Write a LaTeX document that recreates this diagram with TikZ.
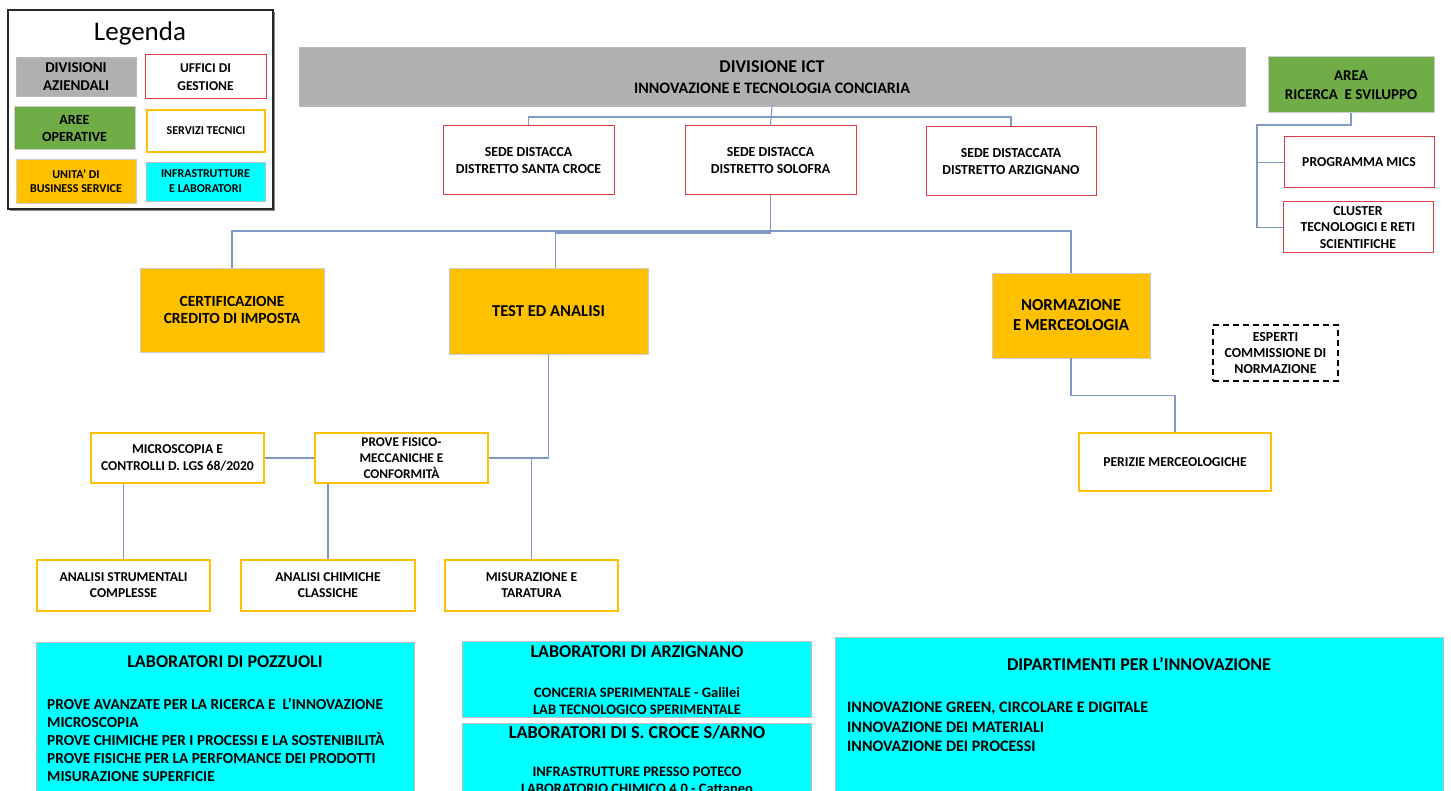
\documentclass[tikz,border=0pt]{standalone}
\usepackage{fontspec}
\setmainfont{Carlito}
\usetikzlibrary{calc}
\definecolor{divgray}{RGB}{176,176,176}
\definecolor{greenf}{RGB}{112,173,71}
\definecolor{orangef}{RGB}{255,192,0}
\definecolor{cyanf}{RGB}{0,255,255}
\definecolor{redb}{RGB}{214,60,66}
\definecolor{connc}{RGB}{128,152,200}
\tikzset{
  fs/.style 2 args={font=\fontsize{#1}{#2}\selectfont\bfseries},
  wh/.style 2 args={minimum width=#1pt, minimum height=#2pt},
  base/.style={inner sep=0pt, align=center, text=black},
  graybox/.style={base, fill=divgray, draw=divgray!90!white, line width=0.8pt},
  redbox/.style={base, fill=white, draw=redb, line width=1pt},
  orbox/.style={base, fill=white, draw=orangef, line width=2.4pt},
  orfill/.style={base, fill=orangef, draw=black!20, line width=0.8pt},
  grbox/.style={base, fill=greenf, draw=black!20, line width=1pt},
  cybox/.style={base, fill=cyanf, draw=black!25, line width=0.8pt},
  dashbox/.style={base, fill=white, draw=black, line width=1.4pt, dash pattern=on 6pt off 4pt},
  conn/.style={draw=connc, line width=1.1pt},
  txt/.style={inner sep=0pt, text=black}
}
\begin{document}
\begin{tikzpicture}[x=1pt,y=-1pt]
\useasboundingbox (0,0) rectangle (1451,791);
\fill[white] (0,0) rectangle (1451,791);

% ---------- legend ----------
\fill[black!45] (10,12) rectangle (275,211);
\node[base, draw=black!85, fill=white, line width=1.3pt, wh={265}{199}] (legend) at (140.5,109.5) {};
\node[txt, font=\fontsize{27}{30}\selectfont] (legtitle) at (140,33) {Legenda};
\node[graybox, wh={120}{39}, fs={15}{17.5}] (lg1) at (76,76.5) {DIVISIONI\\AZIENDALI};
\node[redbox, wh={121}{44}, fs={13.5}{17.5}] (lg2) at (205.5,77) {UFFICI DI\\GESTIONE};
\node[grbox, wh={121}{43}, fs={14}{17.5}] (lg3) at (74.5,128.5) {AREE\\OPERATIVE};
\node[orbox, wh={118}{42}, fs={12}{14}] (lg4) at (206,131) {SERVIZI TECNICI};
\node[orfill, wh={120}{44}, fs={12}{14.5}] (lg5) at (76,181) {UNITA’ DI\\BUSINESS SERVICE};
\node[cybox, wh={119}{39}, fs={12}{15}] (lg6) at (205.5,181.5) {INFRASTRUTTURE\\E LABORATORI};

% ---------- top ----------
\node[graybox, wh={946}{59}, fs={16}{21}] (div) at (772,77) {{\fontsize{18}{21}\selectfont\bfseries DIVISIONE ICT}\\{\fontsize{16}{21}\selectfont\bfseries INNOVAZIONE E TECNOLOGIA CONCIARIA}};
\node[redbox, wh={171}{69}, fs={13.8}{17}] (sc) at (528.5,160.5) {SEDE DISTACCA\\DISTRETTO SANTA CROCE};
\node[redbox, wh={171}{69}, fs={13.8}{17}] (sol) at (770.5,160.5) {SEDE DISTACCA\\DISTRETTO SOLOFRA};
\node[redbox, wh={170}{69}, fs={13.8}{17}] (arz) at (1011,161.5) {SEDE DISTACCATA\\DISTRETTO ARZIGNANO};

\coordinate (bus1) at (0,117);
\draw[conn] (div.south) -- (sol.north);
\draw[conn] (sc.north) -- (sc.north |- bus1) -- (arz.north |- bus1) -- (arz.north);

% ---------- second level ----------
\node[orfill, wh={184}{84}, fs={15.5}{17.5}] (cert) at (232,310) {CERTIFICAZIONE\\CREDITO DI IMPOSTA};
\node[orfill, wh={199}{86}, fs={16.6}{19}] (test) at (548.5,311) {TEST ED ANALISI};
\node[orfill, wh={158}{85}, fs={16.8}{20}] (norm) at (1071,315.5) {NORMAZIONE\\E MERCEOLOGIA};

\coordinate (bus2) at (0,231);
\draw[conn] (sol.south) -- (sol.south |- bus2) -- (cert.north |- bus2) -- (cert.north);
\draw[conn] (sol.south |- bus2) -- (norm.north |- bus2) -- (norm.north);
\draw[conn] ($(sol.south |- bus2)+(0,2)$) -| ($(test.north)+(7,0)$);

\node[dashbox, wh={125}{56}, fs={13.8}{16}] (esp) at (1275.5,353) {ESPERTI\\COMMISSIONE DI\\NORMAZIONE};
\node[orbox, wh={192}{58}, fs={13.6}{16}] (per) at (1175,462) {PERIZIE MERCEOLOGICHE};
\draw[conn] (norm.south) -- ++(0,37) -| (per.north);

% ---------- ricerca e sviluppo ----------
\node[grbox, wh={166}{56}, fs={15}{19}] (area) at (1351,85) {AREA\\RICERCA \ E SVILUPPO};
\node[redbox, wh={150}{51}, fs={13.7}{16}] (mics) at (1359,162.5) {PROGRAMMA MICS};
\node[redbox, wh={150}{51}, fs={13.7}{16.5}] (clu) at (1358,227.5) {CLUSTER\\TECNOLOGICI E RETI\\SCIENTIFICHE};
\coordinate (rs) at (1257,125);
\draw[conn] (area.south) |- (rs) -- (rs |- clu.west) -- (clu.west);
\draw[conn] (rs |- mics.west) -- (mics.west);

% ---------- test branch ----------
\node[orbox, wh={173}{50}, fs={13.3}{16}] (prove) at (401.5,458) {PROVE FISICO-\\MECCANICHE E\\CONFORMITÀ};
\node[orbox, wh={173}{50}, fs={13.6}{17}] (micro) at (177.5,458) {MICROSCOPIA E\\CONTROLLI D. LGS 68/2020};
\node[orbox, wh={173}{51}, fs={13.6}{16}] (asc) at (123.5,585.5) {ANALISI STRUMENTALI\\COMPLESSE};
\node[orbox, wh={174}{51}, fs={13.6}{16}] (ach) at (328,585.5) {ANALISI CHIMICHE\\CLASSICHE};
\node[orbox, wh={173}{51}, fs={13.6}{16}] (mis) at (531.5,585.5) {MISURAZIONE E\\TARATURA};

\draw[conn] (test.south) |- (prove.east);
\draw[conn] (micro.east) -- (prove.west);
\draw[conn] (prove.east -| mis.north) -- (mis.north);
\draw[conn] (asc.north |- micro.south) -- (asc.north);
\draw[conn] (ach.north |- prove.south) -- (ach.north);

% ---------- bottom labs ----------
\node[cybox, anchor=north west, wh={378}{160}] (poz) at (36,642) {};
\node[txt, fs={18}{20}] (poztitle) at (225,662) {LABORATORI DI POZZUOLI};
\node[txt, anchor=north west, align=left, fs={15.3}{18}] (pozlist) at (47,698) {PROVE AVANZATE PER LA RICERCA E \ L’INNOVAZIONE\\MICROSCOPIA\\PROVE CHIMICHE PER I PROCESSI E LA SOSTENIBILITÀ\\PROVE FISICHE PER LA PERFOMANCE DEI PRODOTTI\\MISURAZIONE SUPERFICIE};

\node[cybox, anchor=north west, wh={349}{76}] (arzl) at (462,641) {};
\node[txt, fs={18}{20}] (arztitle) at (637,652) {LABORATORI DI ARZIGNANO};
\node[txt, fs={14.5}{17}, align=center] (arzlist) at (637,700.5) {CONCERIA SPERIMENTALE - Galilei\\LAB TECNOLOGICO SPERIMENTALE};

\node[cybox, anchor=north west, wh={349}{80}] (scl) at (462,723) {};
\node[txt, fs={18.3}{20}] (sctitle) at (637,732) {LABORATORI DI S. CROCE S/ARNO};
\node[txt, fs={14.5}{17}, align=center] (sclist) at (637,780.5) {INFRASTRUTTURE PRESSO POTECO\\LABORATORIO CHIMICO 4.0 - Cattaneo};

\node[cybox, anchor=north west, wh={608}{165}] (dip) at (835,637) {};
\node[txt, fs={18}{20}] (diptitle) at (1139,664) {DIPARTIMENTI PER L’INNOVAZIONE};
\node[txt, anchor=north west, align=left, fs={16}{19.5}] (diplist) at (847,702) {INNOVAZIONE GREEN, CIRCOLARE E DIGITALE\\INNOVAZIONE DEI MATERIALI\\INNOVAZIONE DEI PROCESSI};
\end{tikzpicture}
\end{document}
